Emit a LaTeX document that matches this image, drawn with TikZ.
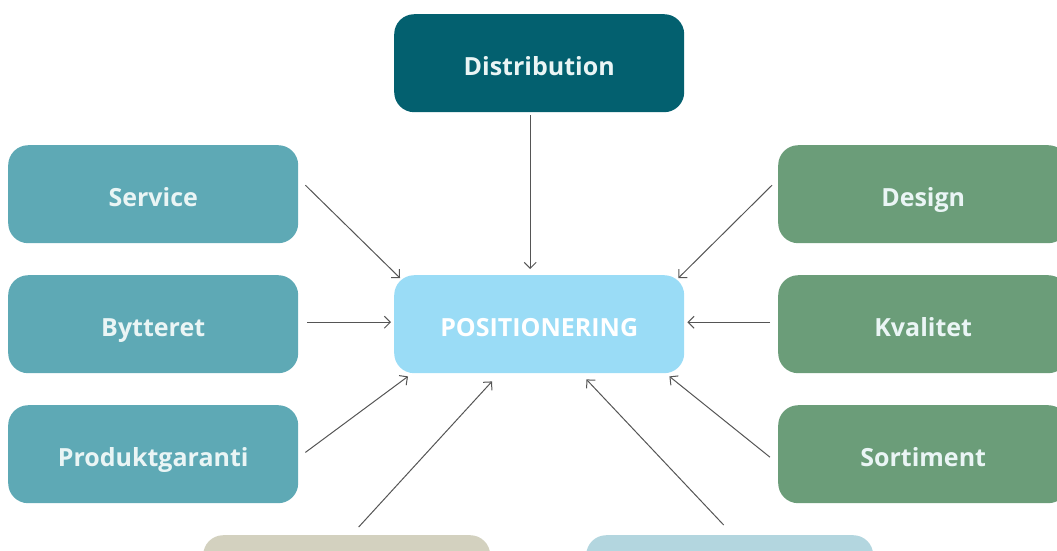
\documentclass[tikz,border=0pt]{standalone}
\usepackage{fontspec}
\setmainfont{Open Sans}
\usetikzlibrary{arrows.meta}
\definecolor{cdist}{HTML}{03606F}
\definecolor{cleft}{HTML}{5EA9B5}
\definecolor{cright}{HTML}{6B9D79}
\definecolor{ccent}{HTML}{9ADCF6}
\definecolor{cbotl}{HTML}{D3D1BF}
\definecolor{cbotr}{HTML}{B3D6DF}
\definecolor{ctext}{HTML}{EAF5F5}
\definecolor{cline}{HTML}{555555}
\begin{document}
\begin{tikzpicture}[x=1pt,y=-1pt,
  boxbase/.style={rounded corners=20pt,minimum width=290pt,minimum height=98pt,inner sep=0pt,anchor=north west,text=ctext,font=\fontsize{25}{28}\selectfont\bfseries,text height=25pt,text depth=0pt},
  distbox/.style={boxbase,fill=cdist},
  leftbox/.style={boxbase,fill=cleft},
  rightbox/.style={boxbase,fill=cright},
  centbox/.style={boxbase,fill=ccent,text=white},
  botlbox/.style={boxbase,fill=cbotl,minimum width=287pt},
  botrbox/.style={boxbase,fill=cbotr,minimum width=287pt},
  conn/.style={draw=cline,line width=1pt,-{Straight Barb[length=6pt,width=12pt,line width=1pt]}}]
\useasboundingbox (0,0) rectangle (1057,550);
\clip (0,0) rectangle (1057,550);
\node[distbox] (dist) at (394,14) {Distribution};
\node[leftbox] (serv) at (8,145) {Service};
\node[leftbox] (bytt) at (8,275) {Bytteret};
\node[leftbox] (prod) at (8,405) {Produktgaranti};
\node[centbox] (pos) at (394,275) {POSITIONERING};
\node[rightbox] (des) at (778,145) {Design};
\node[rightbox] (kval) at (778,275) {Kvalitet};
\node[rightbox] (sort) at (778,405) {Sortiment};
\node[botlbox] (botl) at (203,535) {};
\node[botrbox] (botr) at (586,535) {};
\draw[conn] ([shift={(-9,3)}]dist.south) -- ([shift={(-9,-6)}]pos.north);
\draw[conn] ([shift={(7,-9)}]serv.east) -- ([shift={(6,3)}]pos.north west);
\draw[conn] ([shift={(9,-2)}]bytt.east) -- ([shift={(-3,-2)}]pos.west);
\draw[conn] ([shift={(7,-51)}]prod.south east) -- ([shift={(14,3)}]pos.south west);
\draw[conn] ([shift={(12,-8)}]botl.north) -- ([shift={(98,8)}]pos.south west);
\draw[conn] ([shift={(-6,-10)}]botr.north) -- ([shift={(-98,6)}]pos.south east);
\draw[conn] ([shift={(-6,-9)}]des.west) -- ([shift={(-6,3)}]pos.north east);
\draw[conn] ([shift={(-8,-2)}]kval.west) -- ([shift={(3,-2)}]pos.east);
\draw[conn] ([shift={(-8,3)}]sort.west) -- ([shift={(-15,3)}]pos.south east);
\end{tikzpicture}
\end{document}
